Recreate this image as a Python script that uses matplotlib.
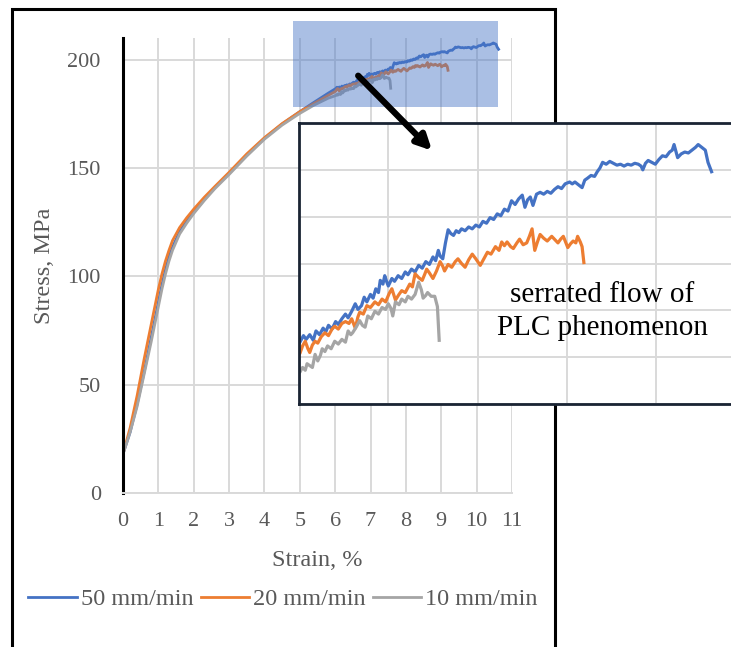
import matplotlib
matplotlib.use("Agg")
import matplotlib.pyplot as plt
from matplotlib.patches import Rectangle

plt.rcParams['font.family'] = ['Liberation Serif', 'DejaVu Serif']

# strain (%) / stress (MPa)
strain_50 = [0, 0.2, 0.4, 0.6, 0.8, 1.0, 1.1, 1.2, 1.3, 1.4, 1.6, 1.8, 2.0, 2.3, 2.6,
             3.0, 3.5, 4.0, 4.5, 5.0, 5.4, 5.8,
             6.01, 6.05, 6.08, 6.12, 6.16, 6.19, 6.23, 6.27, 6.30, 6.33, 6.37, 6.41,
             6.44, 6.48, 6.52, 6.55, 6.59, 6.63, 6.66, 6.70, 6.73, 6.76, 6.80, 6.83,
             6.86, 6.89, 6.91, 6.94, 6.96, 6.98, 7.00, 7.04, 7.07, 7.11, 7.15, 7.19,
             7.22, 7.26, 7.30, 7.34, 7.38, 7.42, 7.46, 7.50, 7.53, 7.56, 7.58, 7.61,
             7.64, 7.67, 7.70, 7.73, 7.76, 7.79, 7.82, 7.86, 7.90, 7.94, 7.98, 8.02,
             8.06, 8.10, 8.14, 8.18, 8.22, 8.26, 8.30, 8.34, 8.38, 8.42, 8.46, 8.50,
             8.53, 8.56, 8.59, 8.62, 8.66, 8.70, 8.74, 8.78, 8.82, 8.86, 8.90, 8.94,
             8.98, 9.03, 9.06, 9.09, 9.13, 9.17, 9.20, 9.23, 9.27, 9.31, 9.34, 9.37,
             9.40, 9.44, 9.48, 9.52, 9.56, 9.60, 9.64, 9.68, 9.72, 9.76, 9.80, 9.83,
             9.85, 9.88, 9.91, 9.95, 9.99, 10.03, 10.07, 10.11, 10.15, 10.18, 10.20, 10.22,
             10.24, 10.28, 10.32, 10.36, 10.40, 10.44, 10.47, 10.51, 10.55, 10.58, 10.62]
stress_50 = [18, 28, 41, 56, 72, 88, 96, 103, 109, 113.5, 120.5, 125.5, 129.5, 135.5, 141,
             147.5, 156, 163.7, 170.3, 176, 180.3, 184.5,
             186.6, 187.3, 186.9, 187.4, 186.8, 187.8, 187.4, 188.1, 187.7, 188.4, 188.0, 188.8,
             188.5, 189.1, 189.6, 189.2, 189.9, 190.7, 190.1, 190.5, 191.4, 190.9, 191.7, 191.3,
             192.3, 191.9, 193.2, 192.8, 193.7, 193.1, 192.6, 193.4, 193.1, 193.7, 193.4, 194.1,
             193.8, 194.4, 194.1, 194.8, 194.5, 195.2, 194.9, 195.7, 195.3, 196.4, 195.8, 195.5,
             197.2, 198.6, 198.2, 198.0, 198.5, 198.3, 198.7, 198.5, 198.9, 198.7, 199.1, 198.9,
             199.5, 199.3, 199.9, 199.7, 200.3, 200.1, 200.8, 200.6, 201.7, 201.3, 201.9, 202.3,
             201.0, 201.8, 202.1, 201.2, 202.4, 202.6, 202.4, 202.7, 202.5, 202.9, 203.2, 203.0,
             203.5, 203.7, 203.5, 203.7, 203.4, 203.1, 203.9, 204.1, 204.4, 204.3, 204.8, 205.2,
             205.8, 205.6, 205.9, 205.7, 205.5, 205.6, 205.4, 205.6, 205.5, 205.7, 205.6, 205.4,
             205.0, 205.7, 206.0, 205.8, 205.6, 206.1, 206.5, 206.4, 206.9, 207.1, 207.7, 207.0,
             206.3, 206.7, 206.9, 206.8, 207.1, 207.4, 207.7, 207.4, 207.1, 205.8, 204.8]

strain_20 = [0, 0.2, 0.4, 0.6, 0.8, 1.0, 1.1, 1.2, 1.3, 1.4, 1.6, 1.8, 2.0, 2.3, 2.6,
             3.0, 3.5, 4.0, 4.5, 5.0, 5.4, 5.8,
             6.01, 6.04, 6.07, 6.10, 6.12, 6.15, 6.18, 6.21, 6.25, 6.29, 6.33, 6.37,
             6.40, 6.44, 6.48, 6.52, 6.56, 6.59, 6.63, 6.66, 6.68, 6.72, 6.76, 6.80,
             6.85, 6.89, 6.93, 6.97, 7.01, 7.04, 7.08, 7.12, 7.15, 7.19, 7.24, 7.27,
             7.30, 7.34, 7.38, 7.41, 7.43, 7.46, 7.50, 7.54, 7.58, 7.61, 7.63, 7.67,
             7.71, 7.75, 7.78, 7.82, 7.86, 7.90, 7.94, 7.98, 8.03, 8.07, 8.11, 8.15,
             8.20, 8.24, 8.27, 8.30, 8.33, 8.37, 8.40, 8.44, 8.47, 8.51, 8.55, 8.58,
             8.61, 8.64, 8.67, 8.70, 8.74, 8.78, 8.83, 8.86, 8.90, 8.93, 8.96, 9.01,
             9.04, 9.07, 9.10, 9.12, 9.15, 9.17, 9.19]
stress_20 = [18, 30, 45, 62, 78, 94, 101, 107, 112, 116.5, 122.5, 127, 131, 136.5, 141.5,
             148, 156.5, 164, 170.5, 176, 179.8, 183.5,
             185.4, 186.2, 186.7, 185.9, 185.5, 186.3, 186.7, 186.5, 187.2, 187.6, 187.3, 188.0,
             188.3, 188.0, 188.6, 188.8, 188.6, 189.1, 188.1, 189.3, 189.8, 189.6, 190.5, 190.3,
             190.9, 190.6, 191.2, 190.9, 191.8, 192.3, 191.1, 191.7, 192.1, 191.9, 192.8, 192.5,
             193.9, 193.5, 193.2, 193.9, 194.4, 194.0, 193.4, 194.2, 195.2, 194.7, 194.2, 194.9,
             194.6, 195.2, 195.5, 195.0, 194.6, 195.4, 196.0, 195.5, 194.8, 195.5, 196.2, 196.0,
             196.8, 196.4, 197.3, 196.9, 197.3, 196.8, 196.6, 197.2, 197.6, 197.0, 197.2, 197.9,
             198.7, 196.4, 197.3, 198.1, 197.7, 197.4, 197.9, 197.6, 197.2, 197.6, 197.9, 196.7,
             197.1, 197.4, 197.2, 197.9, 197.3, 196.8, 195.1]

strain_10 = [0, 0.2, 0.4, 0.6, 0.8, 1.0, 1.1, 1.2, 1.3, 1.4, 1.6, 1.8, 2.0, 2.3, 2.6,
             3.0, 3.5, 4.0, 4.5, 5.0, 5.4, 5.8,
             6.01, 6.04, 6.07, 6.09, 6.12, 6.15, 6.18, 6.21, 6.24, 6.26, 6.29, 6.32,
             6.36, 6.40, 6.44, 6.48, 6.52, 6.55, 6.58, 6.60, 6.64, 6.68, 6.71, 6.74,
             6.77, 6.81, 6.85, 6.89, 6.93, 6.97, 7.00, 7.03, 7.05, 7.08, 7.12, 7.15,
             7.19, 7.22, 7.26, 7.30, 7.34, 7.37, 7.39, 7.42, 7.44, 7.48, 7.52, 7.55,
             7.57]
stress_10 = [18, 28, 40, 55, 70, 86, 94, 101, 107, 112, 119.5, 124.5, 129, 135, 140.5,
             147, 155.5, 163.3, 169.8, 175.2, 179, 182.2,
             183.4, 183.9, 183.6, 184.3, 184.1, 183.9, 185.3, 184.6, 185.2, 185.9, 185.6, 186.2,
             185.9, 186.7, 186.4, 186.9, 186.6, 187.8, 187.4, 187.6, 188.2, 188.9, 188.4, 188.2,
             189.4, 189.1, 189.9, 189.6, 190.3, 190.1, 190.7, 190.2, 189.4, 190.9, 190.6, 191.2,
             190.9, 191.5, 191.2, 191.7, 193.0, 192.2, 191.3, 191.6, 191.9, 191.5, 191.5, 190.4,
             186.8]

series = [(strain_50, stress_50, '50 mm/min', '#4472C4'),
          (strain_20, stress_20, '20 mm/min', '#ED7D31'),
          (strain_10, stress_10, '10 mm/min', '#A5A5A5')]

x_ticks = list(range(0, 12))
y_ticks = [0, 50, 100, 150, 200]
grey_txt = '#595959'
grid_c = '#D9D9D9'

fig = plt.figure(figsize=(7.31, 6.47), dpi=100)

# main chart
ax = fig.add_axes([123/731, 1 - 493/647, 389/731, 455/647])
for x, y, lab, c in series:
    ax.plot(x, y, color=c, lw=2.0, label=lab)
ax.set_xlim(0, 11)
ax.set_ylim(0, 210)
ax.set_xticks(x_ticks)
ax.set_yticks(y_ticks)
ax.grid(True, color=grid_c, lw=1.4)
ax.set_axisbelow(True)
ax.tick_params(length=0, labelsize=16, labelcolor=grey_txt)
ax.tick_params(axis='x', pad=14)
ax.tick_params(axis='y', pad=16)
for s in ['top', 'right']:
    ax.spines[s].set_visible(False)
ax.spines['bottom'].set_color(grid_c)
ax.spines['bottom'].set_linewidth(1.4)
ax.spines['left'].set_color('black')
ax.spines['left'].set_linewidth(2.2)
ax.set_xlabel('Strain, %', fontsize=17.5, color=grey_txt, labelpad=13)
ax.set_ylabel('Stress, MPa', fontsize=17.5, color=grey_txt, labelpad=9)

# highlighted zoom region
ax.add_patch(Rectangle((4.8, 178), 5.8, 40, facecolor='#4472C4', alpha=0.45,
                       edgecolor='none', clip_on=False, zorder=5))

fig.legend(loc='center', bbox_to_anchor=(283/731, 1 - 599/647), ncol=3, frameon=False,
           fontsize=17.5, labelcolor=grey_txt, handlelength=2.0, handletextpad=0.15,
           columnspacing=0.3)

# outer frame
fig.add_artist(Rectangle((12/731, -0.05), 543/731, 1.05 - 9/647, transform=fig.transFigure,
                         fill=False, edgecolor='black', lw=2.2, zorder=0.5))

# inset zoom
axi = fig.add_axes([299/731, 1 - 404/647, 446.5/731, 281/647], zorder=3)
for x, y, lab, c in series:
    axi.plot(x, y, color=c, lw=2.3)
axi.set_xlim(6, 11)
axi.set_ylim(180, 210)
axi.set_xticks(range(6, 12))
axi.set_yticks(range(180, 211, 5))
axi.grid(True, color=grid_c, lw=1.4)
axi.set_axisbelow(True)
axi.tick_params(length=0, labelbottom=False, labelleft=False)
for s in axi.spines.values():
    s.set_color('#1a2433')
    s.set_linewidth(2.0)
axi.text(0.679, 0.33, 'serrated flow of\nPLC phenomenon', transform=axi.transAxes,
         ha='center', va='center', fontsize=21, linespacing=1.35)

# arrow from highlighted area to inset
axi.annotate('', xy=(8.74, 158), xycoords=ax.transData,
             xytext=(6.65, 192.6), textcoords=ax.transData,
             arrowprops=dict(arrowstyle='-|>', color='black', lw=4.5,
                             mutation_scale=22, shrinkA=0, shrinkB=0),
             annotation_clip=False)

fig.savefig('out.png', dpi=100)
